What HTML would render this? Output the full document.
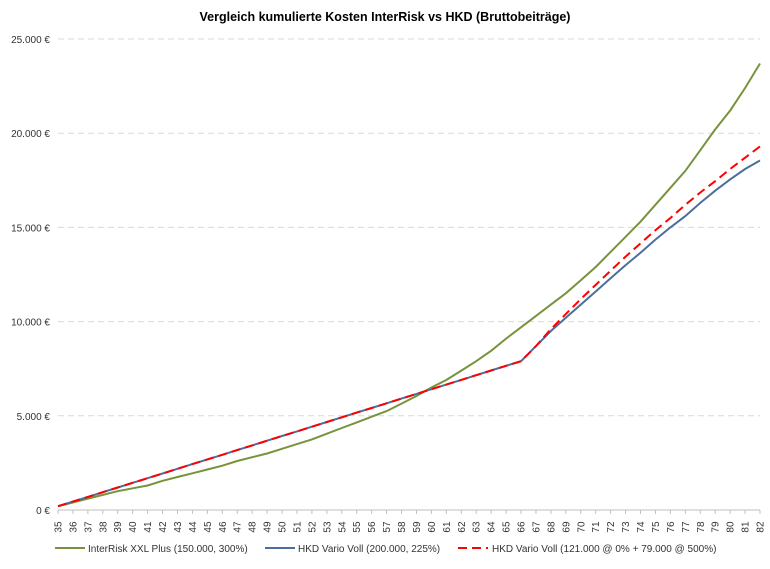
<!DOCTYPE html>
<html><head><meta charset="utf-8"><style>
body{margin:0;background:#fff;font-family:"Liberation Sans",sans-serif}
</style></head><body>
<svg id="s" width="770" height="564" xmlns="http://www.w3.org/2000/svg" font-family="Liberation Sans, sans-serif">
<text x="385" y="21" text-anchor="middle" font-size="12.5" font-weight="bold" fill="#000">Vergleich kumulierte Kosten InterRisk vs HKD (Bruttobeiträge)</text>
</svg>
<script>
const s=document.getElementById('s');const NS='http://www.w3.org/2000/svg';
function el(t,a,txt){const e=document.createElementNS(NS,t);for(const k in a)e.setAttribute(k,a[k]);if(txt)e.textContent=txt;s.appendChild(e);return e;}
const X=a=>58+(a-35)*702/47, Y=v=>510-v*0.01884;
const labs=['0 €','5.000 €','10.000 €','15.000 €','20.000 €','25.000 €'];
for(let i=0;i<=5;i++){const y=Y(i*5000);
 if(i>0)el('line',{x1:58,x2:760,y1:y,y2:y,stroke:'#d9d9d9','stroke-dasharray':'6,4'});
 el('text',{x:50,y:y+4,'text-anchor':'end','font-size':'10',fill:'#333'},labs[i]);}
el('line',{x1:58,x2:760,y1:510,y2:510,stroke:'#bfbfbf'});
for(let a=35;a<=82;a++){const x=X(a);el('line',{x1:x,x2:x,y1:510,y2:514,stroke:'#bfbfbf'});
 el('text',{x:0,y:0,transform:`translate(${x+3.5},527) rotate(-90)`,'text-anchor':'middle','font-size':'10',fill:'#333'},String(a));}
const g=[200,400,600,800,1000,1150,1300,1550,1750,1950,2150,2350,2600,2800,3000,3250,3500,3750,4050,4350,4650,4950,5250,5650,6050,6500,6900,7400,7900,8450,9100,9700,10300,10900,11500,12200,12900,13700,14500,15300,16200,17100,18000,19100,20200,21200,22400,23700];
const b=[],r=[];for(let a=35;a<=66;a++){const v=200+(a-35)*7700/31;b.push(v);r.push(v);}
b.push(8700,9500,10200,10900,11600,12300,13000,13650,14350,15000,15600,16300,16950,17550,18100,18550);
r.push(8700,9600,10400,11200,11950,12700,13450,14150,14850,15500,16200,16850,17450,18100,18700,19300);
const pts=d=>d.map((v,i)=>X(35+i).toFixed(1)+','+Y(v).toFixed(1)).join(' ');
el('polyline',{points:pts(g),fill:'none',stroke:'#77933c','stroke-width':2});
el('polyline',{points:pts(b),fill:'none',stroke:'#4a6f9c','stroke-width':2});
el('polyline',{points:pts(r),fill:'none',stroke:'#ff0000','stroke-width':2,'stroke-dasharray':'9,5'});
el('line',{x1:55,x2:85,y1:548,y2:548,stroke:'#77933c','stroke-width':2});
el('text',{x:88,y:552,'font-size':'10',fill:'#333'},'InterRisk XXL Plus (150.000, 300%)');
el('line',{x1:265,x2:295,y1:548,y2:548,stroke:'#4a6f9c','stroke-width':2});
el('text',{x:298,y:552,'font-size':'10',fill:'#333'},'HKD Vario Voll (200.000, 225%)');
el('line',{x1:458,x2:488,y1:548,y2:548,stroke:'#ff0000','stroke-width':2,'stroke-dasharray':'9,5'});
el('text',{x:492,y:552,'font-size':'10',fill:'#333'},'HKD Vario Voll (121.000 @ 0% + 79.000 @ 500%)');
</script>
</body></html>
